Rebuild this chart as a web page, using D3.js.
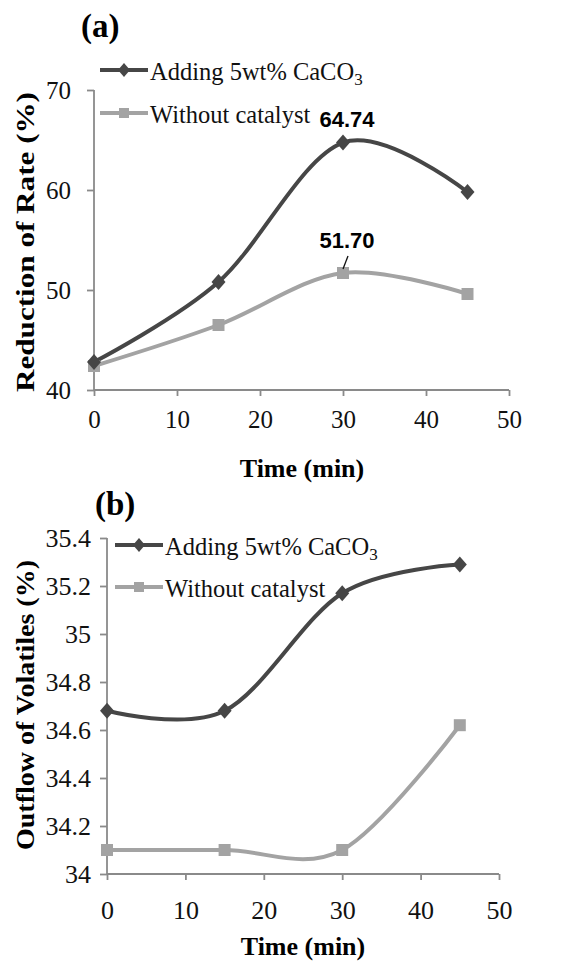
<!DOCTYPE html>
<html>
<head>
<meta charset="utf-8">
<script src="https://cdn.jsdelivr.net/npm/d3@7"></script>
<style>
  body { margin: 0; background: #fff; }
  svg { display: block; }
</style>
</head>
<body>
<svg id="chart" width="574" height="963"></svg>
<script>
// data
const times = [0, 15, 30, 45];
const rateCaCO3 = [42.8, 50.8, 64.74, 59.8];
const rateNoCat = [42.4, 46.5, 51.70, 49.6];
const volCaCO3 = [34.68, 34.68, 35.17, 35.29];
const volNoCat = [34.10, 34.10, 34.10, 34.62];
const xTicks = [0, 10, 20, 30, 40, 50];
const rateTicks = [40, 50, 60, 70];
const volTicks = [34, 34.2, 34.4, 34.6, 34.8, 35, 35.2, 35.4];
const seriesNames = ["Adding 5wt% CaCO", "Without catalyst"];

const dark = "#464646";
const light = "#a3a3a3";
const axisColor = "#8a8a8a";
const serif = "'Liberation Serif', 'Times New Roman', serif";

const svg = d3.select("#chart");

function drawPanel(opt) {
  const x = d3.scaleLinear().domain([0, 50]).range(opt.xRange);
  const y = d3.scaleLinear().domain(opt.yDomain).range(opt.yRange);
  const g = svg.append("g");

  // axes
  const xAxis = g.append("g")
    .attr("transform", "translate(0," + opt.yRange[0] + ")")
    .call(d3.axisBottom(x).tickValues(xTicks).tickSize(6).tickPadding(opt.xPad));
  const yAxis = g.append("g")
    .attr("transform", "translate(" + opt.xRange[0] + ",0)")
    .call(d3.axisLeft(y).tickValues(opt.yTicks).tickSize(7).tickPadding(opt.yPad)
      .tickFormat(d => String(+d.toFixed(1))));
  [xAxis, yAxis].forEach(a => {
    a.selectAll("path, line").attr("stroke", axisColor).attr("stroke-width", 1.8);
    a.selectAll("text").attr("fill", "#111").style("font-family", serif).style("font-size", opt.tickFont);
  });
  xAxis.select(".domain").attr("d", "M" + opt.xRange[0] + ",0H" + opt.xRange[1]);
  yAxis.select(".domain").attr("d", "M0," + opt.yRange[0] + "V" + opt.yRange[1]);

  const line = d3.line()
    .x((d, i) => x(times[i]))
    .y(d => y(d))
    .curve(d3.curveCardinal);

  // light series first, dark on top
  g.append("path").datum(opt.b).attr("d", line)
    .attr("fill", "none").attr("stroke", light).attr("stroke-width", 4);
  g.append("path").datum(opt.a).attr("d", line)
    .attr("fill", "none").attr("stroke", dark).attr("stroke-width", 4);

  g.selectAll(".sq").data(opt.b).enter().append("rect")
    .attr("x", (d, i) => x(times[i]) - 6).attr("y", d => y(d) - 6)
    .attr("width", 12).attr("height", 12).attr("fill", light);
  g.selectAll(".dm").data(opt.a).enter().append("path")
    .attr("d", "M0,-8L7,0L0,8L-7,0Z")
    .attr("transform", (d, i) => "translate(" + x(times[i]) + "," + y(d) + ")")
    .attr("fill", dark);

  // axis titles
  g.append("text")
    .attr("x", opt.xTitle[0]).attr("y", opt.xTitle[1])
    .attr("text-anchor", "middle")
    .style("font-family", serif).style("font-size", "26px").style("font-weight", "bold")
    .text("Time (min)");
  g.append("text")
    .attr("transform", "translate(" + opt.yTitle[0] + "," + opt.yTitle[1] + ") rotate(-90)")
    .attr("text-anchor", "middle")
    .attr("textLength", opt.yTitle[2]).attr("lengthAdjust", "spacingAndGlyphs")
    .style("font-family", serif).style("font-size", "26px").style("font-weight", "bold")
    .text(opt.yLabel);

  // panel letter
  g.append("text")
    .attr("x", opt.letter[0]).attr("y", opt.letter[1])
    .style("font-family", serif).style("font-size", "33px").style("font-weight", "bold")
    .text(opt.letter[2]);

  // legend
  [dark, light].forEach((c, i) => {
    const ly = opt.legend[1] + i * opt.legend[2];
    const lg = g.append("g");
    lg.append("line")
      .attr("x1", opt.legend[0]).attr("x2", opt.legend[0] + 48)
      .attr("y1", ly).attr("y2", ly)
      .attr("stroke", c).attr("stroke-width", 4);
    if (i === 0) {
      lg.append("path").attr("d", "M0,-7L6,0L0,7L-6,0Z")
        .attr("transform", "translate(" + (opt.legend[0] + 24) + "," + ly + ")").attr("fill", c);
    } else {
      lg.append("rect").attr("x", opt.legend[0] + 19).attr("y", ly - 5)
        .attr("width", 10).attr("height", 10).attr("fill", c);
    }
    const t = lg.append("text")
      .attr("x", opt.legend[0] + 50).attr("y", ly + 10)
      .attr("fill", "#111")
      .style("font-family", serif).style("font-size", "24.5px")
      .text(seriesNames[i]);
    if (i === 0) t.append("tspan").attr("dy", 5).style("font-size", "17px").text("3");
  });

  return { g, x, y };
}

const pa = drawPanel({
  xRange: [94, 509], yDomain: [40, 70], yRange: [390, 90],
  yTicks: rateTicks, xPad: 14, yPad: 16, tickFont: "25px",
  a: rateCaCO3, b: rateNoCat,
  xTitle: [302, 477], yTitle: [34, 242, 300], yLabel: "Reduction  of Rate (%)",
  letter: [81, 37, "(a)"], legend: [100, 70, 43]
});

const pb = drawPanel({
  xRange: [107, 499], yDomain: [34, 35.4], yRange: [874, 538],
  yTicks: volTicks, xPad: 21, yPad: 9, tickFont: "26px",
  a: volCaCO3, b: volNoCat,
  xTitle: [303, 955], yTitle: [34, 705, 290], yLabel: "Outflow of Volatiles (%)",
  letter: [95, 515, "(b)"], legend: [115, 545, 42]
});

// data labels on panel (a)
const labelFont = "'Liberation Sans', Arial, sans-serif";
pa.g.append("text")
  .attr("x", pa.x(times[2]) + 4).attr("y", pa.y(rateCaCO3[2]) - 16)
  .attr("text-anchor", "middle")
  .style("font-family", labelFont).style("font-size", "22px").style("font-weight", "bold")
  .text(rateCaCO3[2].toFixed(2));
pa.g.append("text")
  .attr("x", pa.x(times[2]) + 4).attr("y", pa.y(rateNoCat[2]) - 25)
  .attr("text-anchor", "middle")
  .style("font-family", labelFont).style("font-size", "22px").style("font-weight", "bold")
  .text(rateNoCat[2].toFixed(2));
pa.g.append("line")
  .attr("x1", pa.x(times[2]) + 5).attr("y1", pa.y(rateNoCat[2]) - 17)
  .attr("x2", pa.x(times[2])).attr("y2", pa.y(rateNoCat[2]) - 4)
  .attr("stroke", "#111").attr("stroke-width", 1.3);
</script>
</body>
</html>
